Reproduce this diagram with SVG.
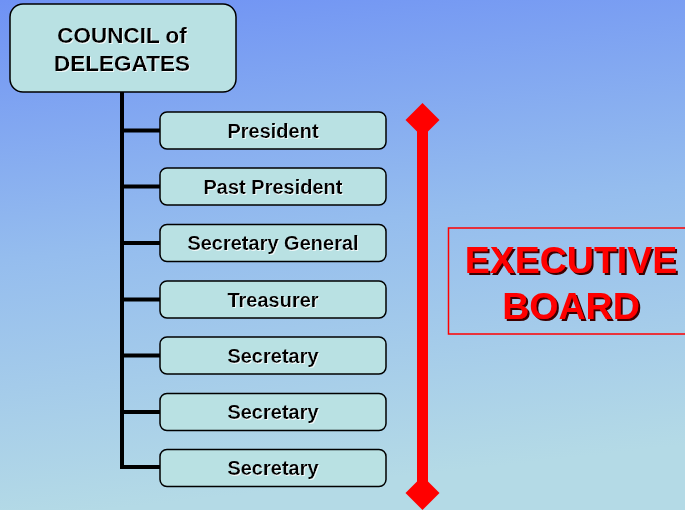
<svg xmlns="http://www.w3.org/2000/svg" width="685" height="510" viewBox="0 0 685 510">
<defs>
<linearGradient id="bg" x1="0" y1="0" x2="0.15" y2="1">
<stop offset="0" stop-color="#6f92f4"/>
<stop offset="0.5" stop-color="#95bdee"/>
<stop offset="1" stop-color="#b4dae6"/>
</linearGradient>
<filter id="wsh" x="-10%" y="-20%" width="120%" height="150%">
<feOffset in="SourceAlpha" dx="1" dy="1" result="o"/>
<feFlood flood-color="#ffffff" flood-opacity="0.8"/>
<feComposite in2="o" operator="in" result="s"/>
<feMerge><feMergeNode in="s"/><feMergeNode in="SourceGraphic"/></feMerge>
</filter>
<filter id="dsh" x="-10%" y="-20%" width="120%" height="150%">
<feOffset in="SourceAlpha" dx="1.5" dy="1.5" result="o"/>
<feFlood flood-color="#3a0000"/>
<feComposite in2="o" operator="in" result="s"/>
<feMerge><feMergeNode in="s"/><feMergeNode in="SourceGraphic"/></feMerge>
</filter>
</defs>
<style>
.box{fill:#b9e1e3;stroke:#000;stroke-width:1.5}
.lbl{font-family:"Liberation Sans",Arial,sans-serif;font-weight:bold;font-size:20px;text-anchor:middle;fill:#000;filter:url(#wsh)}
.cl{font-size:22.5px}
.big{font-family:"Liberation Sans",Arial,sans-serif;font-weight:bold;font-size:37.5px;text-anchor:middle;fill:#ff0000;filter:url(#dsh)}
.line{stroke:#000;stroke-width:4;fill:none}
</style>
<rect x="0" y="0" width="685" height="510" fill="url(#bg)"/>
<g id="connectors">
<path class="line" d="M122 92 V467 H160 M122 130.5 H160 M122 186.5 H160 M122 243 H160 M122 299.5 H160 M122 355.5 H160 M122 412 H160"/>
</g>
<g id="council">
<rect class="box" x="10" y="4" width="226" height="88" rx="13"/>
<text class="lbl cl" x="122" y="43">COUNCIL of</text>
<text class="lbl cl" x="122" y="70.5">DELEGATES</text>
</g>
<g id="president">
<rect class="box" x="160" y="112" width="226" height="37" rx="7"/>
<text class="lbl" x="273" y="137.5">President</text>
</g>
<g id="past-president">
<rect class="box" x="160" y="168" width="226" height="37" rx="7"/>
<text class="lbl" x="273" y="193.5">Past President</text>
</g>
<g id="secretary-general">
<rect class="box" x="160" y="224.5" width="226" height="37" rx="7"/>
<text class="lbl" x="273" y="250">Secretary General</text>
</g>
<g id="treasurer">
<rect class="box" x="160" y="281" width="226" height="37" rx="7"/>
<text class="lbl" x="273" y="306.5">Treasurer</text>
</g>
<g id="secretary-1">
<rect class="box" x="160" y="337" width="226" height="37" rx="7"/>
<text class="lbl" x="273" y="362.5">Secretary</text>
</g>
<g id="secretary-2">
<rect class="box" x="160" y="393.5" width="226" height="37" rx="7"/>
<text class="lbl" x="273" y="419">Secretary</text>
</g>
<g id="secretary-3">
<rect class="box" x="160" y="449.5" width="226" height="37" rx="7"/>
<text class="lbl" x="273" y="475">Secretary</text>
</g>
<g id="executive-bar">
<rect x="417" y="118" width="11" height="376" fill="#ff0000"/>
<polygon points="422.5,103 439.5,120 422.5,137 405.5,120" fill="#ff0000"/>
<polygon points="422.5,476 439.5,493 422.5,510 405.5,493" fill="#ff0000"/>
</g>
<g id="executive-board">
<rect x="448.5" y="228" width="240" height="106" fill="none" stroke="#ff0000" stroke-width="1.5"/>
<text class="big" x="571" y="273">EXECUTIVE</text>
<text class="big" x="571" y="319">BOARD</text>
</g>
</svg>
